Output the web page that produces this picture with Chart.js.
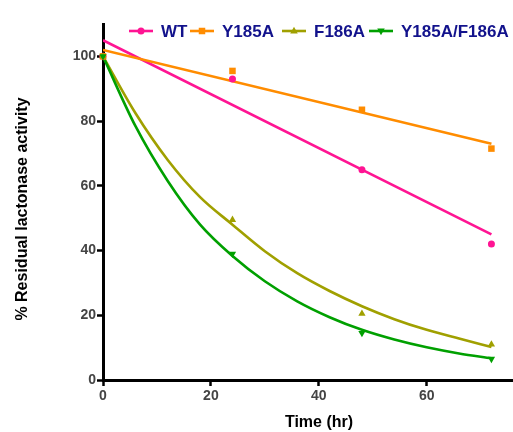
<!DOCTYPE html>
<html>
<head>
<meta charset="utf-8">
<title>Residual lactonase activity</title>
<script src="https://cdn.jsdelivr.net/npm/chart.js@4.4.1/dist/chart.umd.min.js"></script>
<style>
    body { margin: 0; background: #fff; }
    #wrap { width: 513px; height: 432px; }
</style>
</head>
<body>
<div id="wrap"><canvas id="activityChart" width="513" height="432"></canvas></div>
<script>
// measured points (time in hr, % residual activity)
var times = [0, 24, 48, 72];
var wtValues = [100, 93, 65, 42];
var y185aValues = [100, 95.5, 83.5, 71.5];
var f186aValues = [100, 49.5, 20.5, 11];
var doubleValues = [100, 39, 14.5, 6.5];

// fitted lines
var lineTimes = [0, 72];
var wtFit = [105, 45];
var y185aFit = [102, 73];
var curveTimes = [0, 6, 12, 18, 24, 30, 36, 42, 48, 54, 60, 66, 72];
var f186aFit = [100, 82.5, 68, 56.5, 48, 39.8, 33, 27.5, 22.8, 18.8, 15.5, 12.8, 10.2];
var doubleFit = [100, 78.5, 61.5, 48, 38.3, 30.5, 24.3, 19.4, 15.5, 12.5, 10.1, 8.2, 6.7];

var xTicks = [0, 20, 40, 60];
var yTicks = [0, 20, 40, 60, 80, 100];
var seriesNames = ['WT', 'Y185A', 'F186A', 'Y185A/F186A'];

var colors = ['#FF1493', '#FF8C00', '#A0A000', '#00A000'];
var markers = [
    { style: 'circle', radius: 3.5, rotation: 0 },
    { style: 'rect', radius: 4.6, rotation: 0 },
    { style: 'triangle', radius: 4.2, rotation: 0 },
    { style: 'triangle', radius: 4.2, rotation: 180 }
];

function toXY(xs, ys) {
    return xs.map(function (x, i) { return { x: x, y: ys[i] }; });
}

function pointSet(i, values) {
    return {
        label: seriesNames[i],
        data: toXY(times, values),
        showLine: false,
        clip: false,
        backgroundColor: colors[i],
        borderColor: colors[i],
        borderWidth: 0,
        pointStyle: markers[i].style,
        pointRadius: markers[i].radius,
        rotation: markers[i].rotation
    };
}

function fitSet(i, xs, ys) {
    return {
        label: seriesNames[i] + ' fit',
        data: toXY(xs, ys),
        showLine: true,
        borderColor: colors[i],
        borderWidth: 2.6,
        pointRadius: 0,
        tension: 0.4,
        cubicInterpolationMode: 'monotone',
        fill: false
    };
}

// the x axis runs right up to the edge of the picture
var stretchPlugin = {
    id: 'stretch',
    afterLayout: function (chart) {
        var xScale = chart.scales.x;
        chart.chartArea.right = chart.width;
        chart.chartArea.width = chart.width - chart.chartArea.left;
        xScale.right = chart.width;
        xScale.width = chart.width - xScale.left;
        xScale.configure();
    }
};

// legend with line + marker, and the axis titles
var extrasPlugin = {
    id: 'extras',
    afterDraw: function (chart) {
        var ctx = chart.ctx;
        var legendX = [129, 190, 282, 369];
        var legendY = 31;
        ctx.save();
        ctx.font = 'bold 17px "Liberation Sans", Arial, sans-serif';
        ctx.textBaseline = 'middle';
        ctx.textAlign = 'left';
        for (var i = 0; i < seriesNames.length; i++) {
            var lx = legendX[i];
            ctx.strokeStyle = colors[i];
            ctx.lineWidth = 2.6;
            ctx.beginPath();
            ctx.moveTo(lx, legendY);
            ctx.lineTo(lx + 24, legendY);
            ctx.stroke();
            drawMarker(ctx, i, lx + 12, legendY);
            ctx.fillStyle = '#12128C';
            ctx.fillText(seriesNames[i], lx + 32, legendY + 1);
        }

        ctx.fillStyle = '#000';
        ctx.font = 'bold 16px "Liberation Sans", Arial, sans-serif';
        ctx.textAlign = 'center';
        ctx.fillText('Time (hr)', 319, 423);

        ctx.translate(23, 209);
        ctx.rotate(-Math.PI / 2);
        ctx.fillText('% Residual lactonase activity', 0, 0);
        ctx.restore();
    }
};

function drawMarker(ctx, i, x, y) {
    var r = markers[i].radius;
    ctx.fillStyle = colors[i];
    ctx.beginPath();
    if (markers[i].style === 'circle') {
        ctx.arc(x, y, r, 0, Math.PI * 2);
    } else if (markers[i].style === 'rect') {
        var s = r * Math.SQRT1_2;
        ctx.rect(x - s, y - s, 2 * s, 2 * s);
    } else {
        var dir = markers[i].rotation === 180 ? -1 : 1;
        ctx.moveTo(x, y - dir * r);
        ctx.lineTo(x - r * 0.9, y + dir * r * 0.6);
        ctx.lineTo(x + r * 0.9, y + dir * r * 0.6);
        ctx.closePath();
    }
    ctx.fill();
}

var tickFont = { family: '"Liberation Sans", Arial, sans-serif', size: 14, weight: 'bold' };

var ctx = document.getElementById('activityChart').getContext('2d');
var activityChart = new Chart(ctx, {
    type: 'scatter',
    data: {
        datasets: [
            pointSet(3, doubleValues),
            pointSet(2, f186aValues),
            pointSet(1, y185aValues),
            pointSet(0, wtValues),
            fitSet(3, curveTimes, doubleFit),
            fitSet(2, curveTimes, f186aFit),
            fitSet(1, lineTimes, y185aFit),
            fitSet(0, lineTimes, wtFit)
        ]
    },
    options: {
        responsive: false,
        animation: false,
        layout: { padding: { top: 24, right: 0, left: 0, bottom: 0 } },
        plugins: {
            legend: { display: false },
            tooltip: { enabled: false }
        },
        scales: {
            x: {
                type: 'linear',
                min: 0,
                max: 76,
                afterBuildTicks: function (scale) {
                    scale.ticks = xTicks.map(function (v) { return { value: v }; });
                },
                afterFit: function (scale) {
                    scale.height = 52;
                },
                grid: { drawOnChartArea: false, drawTicks: true, tickLength: 6, tickWidth: 2.5, tickColor: '#000' },
                border: { display: true, color: '#000', width: 3 },
                ticks: { font: tickFont, color: '#444', padding: 2, maxRotation: 0 }
            },
            y: {
                type: 'linear',
                min: 0,
                max: 110,
                afterBuildTicks: function (scale) {
                    scale.ticks = yTicks.map(function (v) { return { value: v }; });
                },
                afterFit: function (scale) {
                    scale.width = 103;
                },
                grid: { drawOnChartArea: false, drawTicks: true, tickLength: 6, tickWidth: 2.5, tickColor: '#000' },
                border: { display: true, color: '#000', width: 3 },
                ticks: { font: tickFont, color: '#444', padding: 1 }
            }
        }
    },
    plugins: [stretchPlugin, extrasPlugin]
});
</script>
</body>
</html>
